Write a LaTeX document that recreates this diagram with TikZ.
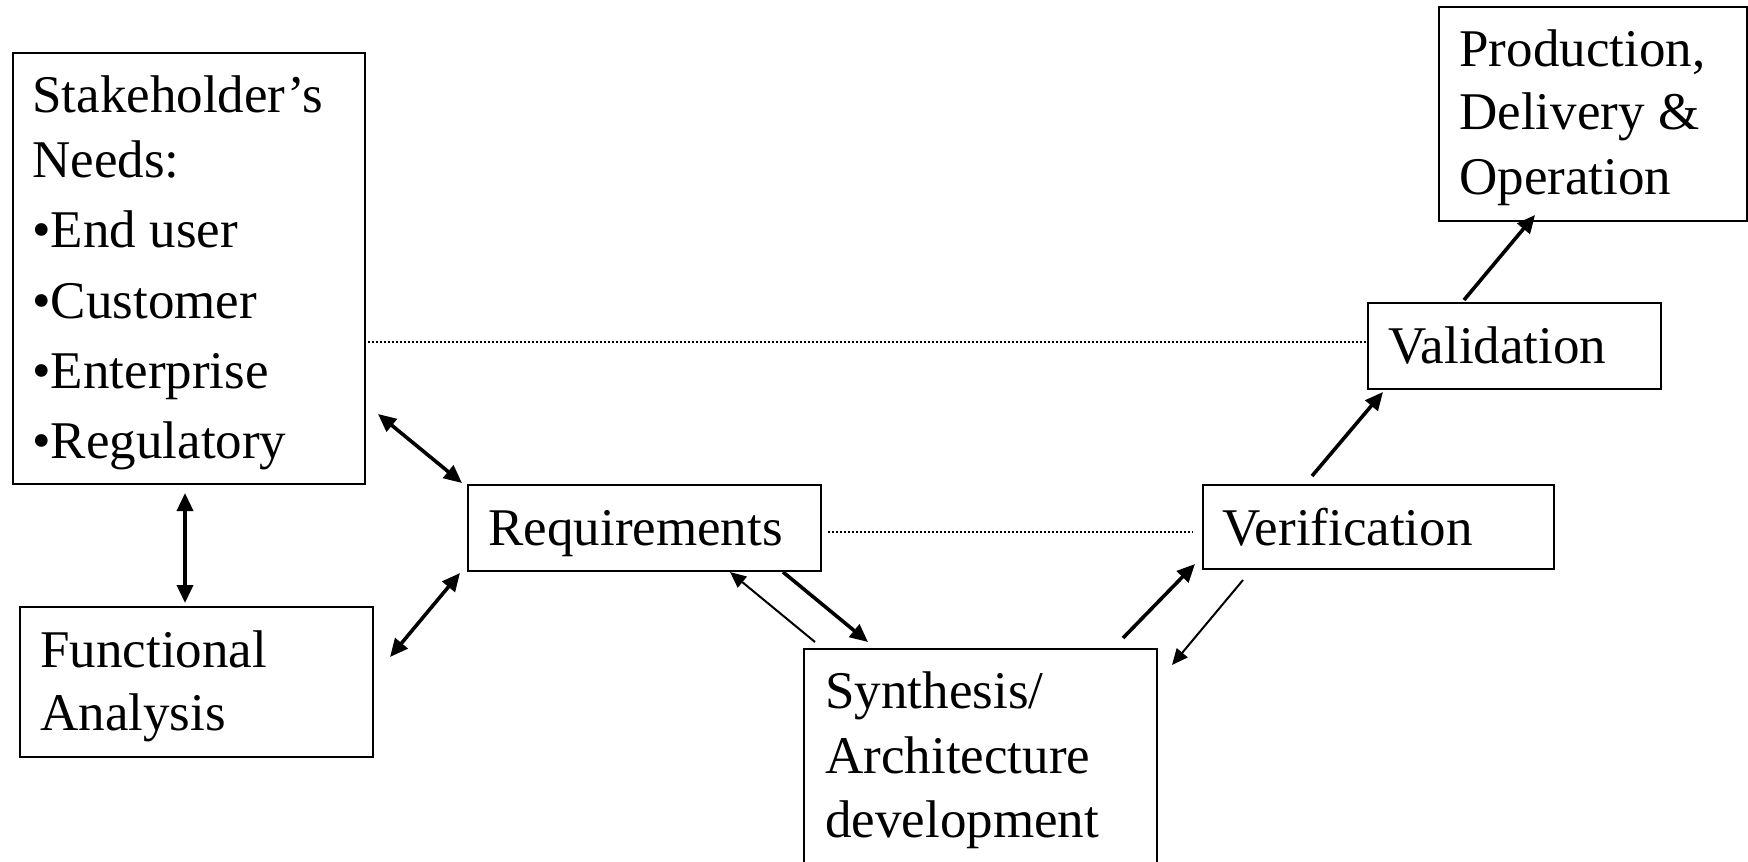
\documentclass[tikz,border=0pt]{standalone}
\usepackage{fontspec}
\setmainfont{Liberation Serif}
\usetikzlibrary{arrows.meta}
\begin{document}
\begin{tikzpicture}[x=0.5pt,y=-0.5pt,
  box/.style={draw,line width=1.1pt,rectangle,inner sep=0pt,anchor=north west},
  txt/.style={anchor=base west,inner sep=0pt,font=\fontsize{26.5}{30}\selectfont},
  thick arrow/.style={line width=1.8pt,-{Triangle[length=9pt,width=8pt]}},
  thick double/.style={line width=1.8pt,{Triangle[length=9pt,width=8pt]}-{Triangle[length=9pt,width=8pt]}},
  thin arrow/.style={line width=1pt,-{Triangle[length=8pt,width=7pt]}},
  dotline/.style={line width=0.8pt,dash pattern=on 0.8pt off 1.2pt}]
\useasboundingbox (0,0) rectangle (1748,861);
\clip (0,0) rectangle (1748,861);
% boxes
\node[box,minimum width=176pt,minimum height=215.5pt] (sh) at (12,52) {};
\node[box,minimum width=176.5pt,minimum height=75pt] (fa) at (19,606) {};
\node[box,minimum width=176.5pt,minimum height=43pt] (req) at (467,484) {};
\node[box,minimum width=176.5pt,minimum height=150pt] (syn) at (803,648) {};
\node[box,minimum width=175.5pt,minimum height=42pt] (ver) at (1202,484) {};
\node[box,minimum width=146.5pt,minimum height=43pt] (val) at (1367,302) {};
\node[box,minimum width=154pt,minimum height=107pt] (prod) at (1438,6) {};
% texts
\node[txt] (sh1) at (32,113) {Stakeholder’s};
\node[txt] (sh2) at (32,177) {Needs:};
\node[txt] (sh3) at (32,248) {•End user};
\node[txt] (sh4) at (32,318) {•Customer};
\node[txt] (sh5) at (32,388) {•Enterprise};
\node[txt] (sh6) at (32,458) {•Regulatory};
\node[txt] (fa1) at (40,667) {Functional};
\node[txt] (fa2) at (40,730) {Analysis};
\node[txt] (req1) at (488,545) {Requirements};
\node[txt] (syn1) at (825,708) {Synthesis/};
\node[txt] (syn2) at (825,773) {Architecture};
\node[txt] (syn3) at (825,837) {development};
\node[txt] (ver1) at (1222,545) {Verification};
\node[txt] (val1) at (1388,363) {Validation};
\node[txt] (prod1) at (1459,67) {Production,};
\node[txt] (prod2) at (1459,130) {Delivery \&};
\node[txt] (prod3) at (1459,195) {Operation};
% connector end points
\coordinate (a1s) at (185,493); \coordinate (a1e) at (185,603);
\coordinate (a2s) at (378,414); \coordinate (a2e) at (462,483);
\coordinate (a3s) at (390,657); \coordinate (a3e) at (460,573);
\coordinate (a4s) at (815,642); \coordinate (a4e) at (730,572);
\coordinate (a5s) at (783,572); \coordinate (a5e) at (868,642);
\coordinate (a6s) at (1123,638); \coordinate (a6e) at (1195,564);
\coordinate (a7s) at (1243,580); \coordinate (a7e) at (1172,665);
\coordinate (a8s) at (1312,476); \coordinate (a8e) at (1383,392);
\coordinate (a9s) at (1464,300); \coordinate (a9e) at (1535,215);
\coordinate (d1s) at (364,342); \coordinate (d1e) at (1367,342);
\coordinate (d2s) at (828,532); \coordinate (d2e) at (1193,532);
% connectors
\draw[thick double] (a1s) -- (a1e);
\draw[thick double] (a2s) -- (a2e);
\draw[thick double] (a3s) -- (a3e);
\draw[thin arrow] (a4s) -- (a4e);
\draw[thick arrow] (a5s) -- (a5e);
\draw[thick arrow] (a6s) -- (a6e);
\draw[thin arrow] (a7s) -- (a7e);
\draw[thick arrow] (a8s) -- (a8e);
\draw[thick arrow] (a9s) -- (a9e);
\draw[dotline] (d1s) -- (d1e);
\draw[dotline] (d2s) -- (d2e);
\end{tikzpicture}
\end{document}
